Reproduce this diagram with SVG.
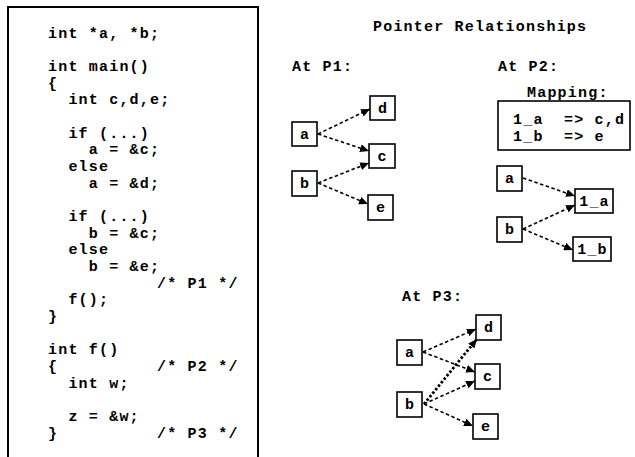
<svg xmlns="http://www.w3.org/2000/svg" width="635" height="457" viewBox="0 0 635 457">
<style>
text{font-family:"Liberation Mono","Courier New",monospace;font-weight:bold;font-size:15px;letter-spacing:1.2px;fill:#000}
.box{fill:#fff;stroke:#000;stroke-width:1.6}
.lbl{text-anchor:middle}
.edge{fill:none;stroke:#000;stroke-width:1.6;stroke-dasharray:3.5,2.5;marker-end:url(#ah)}
.thick{stroke-width:2.8;stroke-dasharray:2.5,2}
</style>
<defs>
<marker id="ah" markerUnits="userSpaceOnUse" markerWidth="10" markerHeight="8" refX="9" refY="4" orient="auto">
<path d="M0,0 L9,4 L0,8 z" fill="#000"/>
</marker>
</defs>
<rect x="0" y="0" width="635" height="457" fill="#fff"/>

<g id="code">
<rect x="8" y="7" width="250" height="470" fill="none" stroke="#000" stroke-width="2"/>
<text x="48" y="37.5">int *a, *b;</text>
<text x="48" y="70.8">int main()</text>
<text x="48" y="87.5">{</text>
<text x="68.4" y="104.2">int c,d,e;</text>
<text x="68.4" y="137.5">if (...)</text>
<text x="88.8" y="154.2">a = &amp;c;</text>
<text x="68.4" y="170.8">else</text>
<text x="88.8" y="187.5">a = &amp;d;</text>
<text x="68.4" y="220.8">if (...)</text>
<text x="88.8" y="237.5">b = &amp;c;</text>
<text x="68.4" y="254.2">else</text>
<text x="88.8" y="270.8">b = &amp;e;</text>
<text x="157" y="287.5">/* P1 */</text>
<text x="68.4" y="304.2">f();</text>
<text x="48" y="320.8">}</text>
<text x="48" y="354.2">int f()</text>
<text x="48" y="370.8">{</text>
<text x="157" y="370.8">/* P2 */</text>
<text x="68.4" y="387.5">int w;</text>
<text x="68.4" y="420.8">z = &amp;w;</text>
<text x="48" y="437.5">}</text>
<text x="157" y="437.5">/* P3 */</text>
</g>

<g id="titles">
<text x="373" y="31">Pointer Relationships</text>
<text x="292" y="70.5">At P1:</text>
<text x="498" y="70.5">At P2:</text>
<text x="527" y="96.5">Mapping:</text>
<text x="402" y="300.5">At P3:</text>
</g>

<g id="mapping">
<rect class="box" x="498" y="101" width="132" height="49"/>
<text x="513" y="124" xml:space="preserve">1_a  =&gt; c,d</text>
<text x="513" y="140.5" xml:space="preserve">1_b  =&gt; e</text>
</g>

<g id="connectors">
<line class="edge" x1="318" y1="134" x2="370" y2="109"/>
<line class="edge" x1="318" y1="134" x2="369" y2="151"/>
<line class="edge" x1="318" y1="183" x2="369" y2="163"/>
<line class="edge" x1="318" y1="183" x2="368" y2="204"/>

<line class="edge" x1="523" y1="178" x2="575" y2="196"/>
<line class="edge" x1="523" y1="229" x2="575" y2="205"/>
<line class="edge" x1="523" y1="229" x2="573" y2="250"/>

<line class="edge" x1="423" y1="352" x2="476" y2="329"/>
<line class="edge" x1="423" y1="352" x2="475" y2="372"/>
<line class="edge thick" x1="424" y1="404" x2="477" y2="339"/>
<line class="edge" x1="424" y1="404" x2="475" y2="381"/>
<line class="edge" x1="424" y1="404" x2="473" y2="426"/>
</g>

<g id="p1-a"><rect class="box" x="292" y="122" width="25" height="24"/><text class="lbl" x="305" y="138.5">a</text></g>
<g id="p1-d"><rect class="box" x="370" y="96" width="25" height="24"/><text class="lbl" x="383" y="112.5">d</text></g>
<g id="p1-c"><rect class="box" x="369" y="144" width="26" height="24"/><text class="lbl" x="382.5" y="160.5">c</text></g>
<g id="p1-b"><rect class="box" x="292" y="171" width="25" height="25"/><text class="lbl" x="305" y="188">b</text></g>
<g id="p1-e"><rect class="box" x="368" y="195" width="25" height="25"/><text class="lbl" x="381" y="212">e</text></g>

<g id="p2-a"><rect class="box" x="497" y="166" width="25" height="25"/><text class="lbl" x="510" y="183">a</text></g>
<g id="p2-b"><rect class="box" x="497" y="217" width="25" height="25"/><text class="lbl" x="510" y="234">b</text></g>
<g id="p2-1a"><rect class="box" x="575" y="189" width="38" height="24"/><text class="lbl" x="594.5" y="205.5">1_a</text></g>
<g id="p2-1b"><rect class="box" x="573" y="237" width="38" height="24"/><text class="lbl" x="592.5" y="253.5">1_b</text></g>

<g id="p3-d"><rect class="box" x="476" y="315" width="25" height="25"/><text class="lbl" x="489" y="332">d</text></g>
<g id="p3-a"><rect class="box" x="397" y="340" width="25" height="25"/><text class="lbl" x="410" y="357">a</text></g>
<g id="p3-c"><rect class="box" x="475" y="364" width="25" height="25"/><text class="lbl" x="488" y="381">c</text></g>
<g id="p3-b"><rect class="box" x="397" y="392" width="25" height="25"/><text class="lbl" x="410" y="409">b</text></g>
<g id="p3-e"><rect class="box" x="473" y="414" width="25" height="25"/><text class="lbl" x="486" y="431">e</text></g>
</svg>
